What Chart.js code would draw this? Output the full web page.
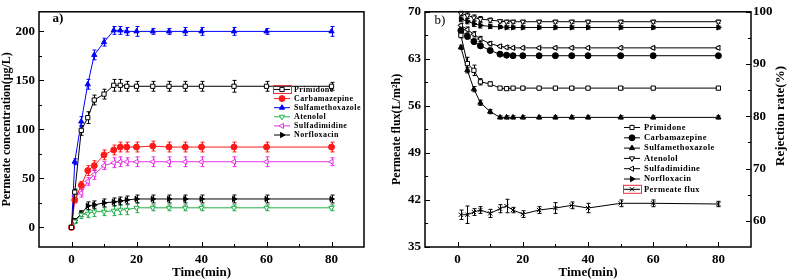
<!DOCTYPE html>
<html>
<head>
<meta charset="utf-8">
<script src="https://cdn.jsdelivr.net/npm/chart.js@4.4.0/dist/chart.umd.min.js"></script>
<style>
  body { margin: 0; background: #fff; }
  #wrap { position: relative; width: 787px; height: 280px; }
  canvas { position: absolute; top: 0; }
</style>
</head>
<body>
<div id="wrap">
  <canvas id="chartA" width="390" height="280" style="left:0"></canvas>
  <canvas id="chartB" width="397" height="280" style="left:390px"></canvas>
</div>
<script>
// ---- panel a) permeate concentration ----
const timeA = [0, 1, 3, 5, 7, 10, 13, 15, 17, 20, 25, 30, 35, 40, 50, 60, 80];
const primidoneA = [0, 36, 99, 112, 130, 136, 145, 145, 144, 144, 144, 144, 144, 144, 144, 144, 144];
const carbamazepineA = [0, 28, 43, 58, 63, 74, 79, 82, 82, 82, 83, 82, 82, 82, 82, 82, 82];
const sulfamethoxazoleA = [0, 67, 108, 146, 176, 189, 201, 201, 200, 200, 200, 200, 200, 200, 200, 200, 200];
const atenololA = [0, 6, 13, 14, 16, 16, 17, 18, 18, 20, 20, 20, 20, 20, 20, 20, 20];
const sulfadimidineA = [0, 32, 35, 47, 54, 63, 66, 67, 67, 67, 67, 67, 67, 67, 67, 67, 67];
const norfloxacinA = [0, 7, 14, 22, 23, 25, 26, 27, 28, 29, 29, 29, 29, 29, 29, 29, 29];

const errPrimidoneA = [0.5, 3, 5, 6, 5, 5, 6, 6, 5, 5, 5, 5, 5, 5, 6, 5, 4];
const errCarbamazepineA = [0.5, 3, 4, 5, 5, 5, 5, 5, 5, 5, 5, 5, 5, 5, 5, 5, 5];
const errSulfamethoxazoleA = [0.5, 3, 5, 5, 5, 4, 4, 4, 4, 5, 3, 3, 4, 4, 4, 3, 5];
const errAtenololA = [0.5, 2, 4, 4, 5, 4, 5, 5, 5, 5, 3, 3, 3, 3, 3, 3, 3];
const errSulfadimidineA = [0.5, 3, 4, 4, 5, 4, 5, 5, 4, 5, 5, 5, 5, 5, 5, 5, 4];
const errNorfloxacinA = [0.5, 2, 3, 4, 4, 4, 4, 4, 4, 4, 4, 4, 4, 4, 4, 4, 4];

// ---- panel b) rejection rate and flux ----
const timeB = [1, 3, 5, 7, 10, 13, 15, 17, 20, 25, 30, 35, 40, 50, 60, 80];
const primidoneB = [95.5, 90.1, 88.8, 86.6, 86.2, 85.4, 85.3, 85.4, 85.4, 85.4, 85.4, 85.4, 85.4, 85.4, 85.4, 85.4];
const carbamazepineB = [96.4, 95.3, 94.3, 93.5, 92.6, 91.9, 91.7, 91.6, 91.6, 91.6, 91.6, 91.6, 91.6, 91.6, 91.6, 91.6];
const sulfamethoxazoleB = [93.2, 88.8, 85.2, 82.6, 80.9, 79.8, 79.8, 79.8, 79.8, 79.8, 79.8, 79.8, 79.8, 79.8, 79.8, 79.8];
const atenololB = [99.7, 99.3, 98.9, 98.6, 98.4, 98.2, 98.1, 98.1, 98.1, 98.1, 98.1, 98.1, 98.1, 98.1, 98.1, 98.1];
const sulfadimidineB = [97.4, 96.6, 95.7, 94.8, 93.9, 93.4, 93.2, 93.1, 93.1, 93.1, 93.1, 93.1, 93.1, 93.1, 93.1, 93.1];
const norfloxacinB = [98.6, 98.2, 97.7, 97.4, 97.2, 97.1, 97.0, 97.0, 97.0, 97.0, 97.0, 97.0, 97.0, 97.0, 97.0, 97.0];
const fluxB = [39.8, 39.8, 40.2, 40.5, 40.0, 40.7, 41.1, 40.5, 39.9, 40.5, 40.8, 41.2, 40.8, 41.5, 41.5, 41.4];

const errPrimidoneB = [0.5, 1.2, 1.0, 0.6, 0.4, 0.3, 0.3, 0.3, 0.3, 0.3, 0.3, 0.3, 0.3, 0.3, 0.3, 0.3];
const errRejB = [0.4, 0.5, 0.5, 0.5, 0.4, 0.3, 0.3, 0.3, 0.3, 0.3, 0.3, 0.3, 0.3, 0.3, 0.3, 0.3];
const errFluxB = [0.7, 1.3, 0.5, 0.5, 0.6, 0.6, 1.0, 0.4, 0.5, 0.5, 0.8, 0.5, 0.7, 0.5, 0.5, 0.4];

// tick labels
const timeTicks = [0, 20, 40, 60, 80];
const timeMinor = [10, 30, 50, 70];
const concTicks = [0, 50, 100, 150, 200];
const concMinor = [25, 75, 125, 175];
const fluxTicks = [35, 42, 49, 56, 63, 70];
const fluxMinor = [38.5, 45.5, 52.5, 59.5, 66.5];
const rejTicks = [60, 70, 80, 90, 100];
const rejMinor = [65, 75, 85, 95];

const FONT = "'Liberation Serif', 'Times New Roman', serif";
Chart.defaults.font.family = FONT;
Chart.defaults.font.weight = "bold";
Chart.defaults.color = "#000";

function series(label, xs, ys, errs, color, style, rotation, filled, yAxisID) {
  return {
    label,
    data: xs.map((x, i) => ({ x, y: ys[i] })),
    errors: errs,
    borderColor: color,
    backgroundColor: color,
    borderWidth: 1,
    pointStyle: style,
    pointRotation: rotation,
    pointRadius: 3,
    pointBackgroundColor: filled ? color : "#fff",
    pointBorderColor: color,
    pointBorderWidth: 1,
    yAxisID: yAxisID || "y",
  };
}

// frame around the plot area
const frame = {
  id: "frame",
  afterDraw(chart) {
    const a = chart.chartArea, ctx = chart.ctx;
    ctx.save();
    ctx.strokeStyle = "#000";
    ctx.lineWidth = 1.5;
    ctx.strokeRect(a.left, a.top, a.right - a.left, a.bottom - a.top);
    ctx.restore();
  },
};

// inward tick marks
const tickMarks = {
  id: "tickMarks",
  afterDraw(chart, args, opts) {
    const a = chart.chartArea, ctx = chart.ctx;
    ctx.save();
    ctx.strokeStyle = "#000";
    ctx.lineWidth = 1;
    const mark = (s, v, len, side) => {
      const p = Math.round(s.getPixelForValue(v)) + 0.5;
      ctx.beginPath();
      if (side === "bottom") { ctx.moveTo(p, a.bottom); ctx.lineTo(p, a.bottom - len); }
      if (side === "left") { ctx.moveTo(a.left, p); ctx.lineTo(a.left + len, p); }
      if (side === "right") { ctx.moveTo(a.right, p); ctx.lineTo(a.right - len, p); }
      ctx.stroke();
    };
    opts.marks.forEach((m) => {
      const s = chart.scales[m.id];
      m.major.forEach((v) => mark(s, v, 5, m.side));
      m.minor.forEach((v) => mark(s, v, 3, m.side));
    });
    ctx.restore();
  },
};

// error bars from dataset.errors
const errorBars = {
  id: "errorBars",
  beforeDatasetsDraw(chart) {
    const ctx = chart.ctx;
    ctx.save();
    ctx.lineWidth = 1;
    chart.data.datasets.forEach((ds, i) => {
      if (!ds.errors) return;
      const meta = chart.getDatasetMeta(i);
      const ys = chart.scales[meta.yAxisID];
      ctx.strokeStyle = ds.borderColor;
      meta.data.forEach((pt, j) => {
        const v = ds.data[j].y, e = ds.errors[j];
        const x = Math.round(pt.x) + 0.5;
        const y1 = ys.getPixelForValue(v + e), y2 = ys.getPixelForValue(v - e);
        ctx.beginPath();
        ctx.moveTo(x, y1); ctx.lineTo(x, y2);
        ctx.moveTo(x - 2, y1); ctx.lineTo(x + 2, y1);
        ctx.moveTo(x - 2, y2); ctx.lineTo(x + 2, y2);
        ctx.stroke();
      });
    });
    ctx.restore();
  },
};

// legend drawn inside the plot
const legendBox = {
  id: "legendBox",
  afterDraw(chart, args, o) {
    const ctx = chart.ctx;
    ctx.save();
    ctx.font = `bold ${o.size}px ${FONT}`;
    ctx.letterSpacing = "0.4px";
    ctx.textBaseline = "middle";
    chart.data.datasets.forEach((ds, i) => {
      const y = o.y + i * o.step;
      ctx.strokeStyle = ds.borderColor;
      ctx.lineWidth = 1;
      ctx.beginPath();
      ctx.moveTo(o.x, y + 0.5); ctx.lineTo(o.x + 16, y + 0.5);
      ctx.stroke();
      ctx.fillStyle = ds.pointBackgroundColor;
      Chart.helpers.drawPoint(ctx, { pointStyle: ds.pointStyle, rotation: ds.pointRotation, radius: 3, borderWidth: 1 }, o.x + 8, y + 0.5);
      if (i === o.boxed) {
        ctx.strokeStyle = "#e8303a";
        ctx.strokeRect(o.x - 0.5, y - 3.5, 18, 8);
      }
      ctx.fillStyle = "#000";
      ctx.fillText(ds.label, o.x + 20, y + 0.5);
    });
    ctx.restore();
  },
};

// free text: panel letters, rotated right title
const freeText = {
  id: "freeText",
  afterDraw(chart, args, o) {
    const ctx = chart.ctx;
    ctx.save();
    ctx.fillStyle = "#000";
    ctx.textAlign = "center";
    ctx.textBaseline = "middle";
    o.items.forEach((t) => {
      ctx.save();
      ctx.font = t.font;
      ctx.translate(t.x, t.y);
      if (t.rot) ctx.rotate(t.rot);
      ctx.fillText(t.text, 0, 0);
      ctx.restore();
    });
    ctx.restore();
  },
};

function xAxis() {
  return {
    type: "linear",
    min: -10,
    max: 90,
    afterBuildTicks: (s) => { s.ticks = timeTicks.map((v) => ({ value: v })); },
    afterFit: (s) => { s.height = 33; },
    grid: { display: false, drawTicks: false },
    border: { display: false },
    ticks: { padding: 5, font: { size: 13, weight: "bold" }, maxRotation: 0, autoSkip: false },
    title: { display: true, text: "Time(min)", font: { size: 13, weight: "bold" }, padding: 0 },
  };
}

function yAxis(min, max, ticks, width, pad, title, position) {
  return {
    type: "linear",
    position: position || "left",
    min, max,
    afterBuildTicks: (s) => { s.ticks = ticks.map((v) => ({ value: v })); },
    afterFit: (s) => { s.width = width; },
    grid: { display: false, drawTicks: false },
    border: { display: false },
    ticks: { padding: pad, font: { size: 13, weight: "bold" } },
    title: { display: !!title, text: title, font: { size: 12, weight: "bold" }, padding: 0 },
  };
}

new Chart(document.getElementById("chartA"), {
  type: "line",
  data: {
    datasets: [
      series("Primidone", timeA, primidoneA, errPrimidoneA, "#000000", "rect", 0, false),
      series("Carbamazepine", timeA, carbamazepineA, errCarbamazepineA, "#ff1a1a", "circle", 0, true),
      series("Sulfamethoxazole", timeA, sulfamethoxazoleA, errSulfamethoxazoleA, "#0000ff", "triangle", 0, true),
      series("Atenolol", timeA, atenololA, errAtenololA, "#22b04a", "triangle", 180, false),
      series("Sulfadimidine", timeA, sulfadimidineA, errSulfadimidineA, "#e632e6", "triangle", 270, false),
      series("Norfloxacin", timeA, norfloxacinA, errNorfloxacinA, "#000000", "triangle", 90, true),
    ],
  },
  options: {
    responsive: false,
    animation: false,
    devicePixelRatio: 1,
    layout: { padding: { top: 5, right: 26, left: 0, bottom: 0 } },
    scales: {
      x: xAxis(),
      y: yAxis(-20, 220, concTicks, 39, 4, "Permeate concentration(\u03bcg/L)"),
    },
    plugins: {
      legend: { display: false },
      tooltip: { enabled: false },
      tickMarks: {
        marks: [
          { id: "x", side: "bottom", major: timeTicks, minor: timeMinor },
          { id: "y", side: "left", major: concTicks, minor: concMinor },
        ],
      },
      legendBox: { x: 274, y: 89, step: 9.1, size: 8, boxed: 0 },
      freeText: { items: [{ text: "a)", x: 58, y: 19, font: `bold 13px ${FONT}` }] },
    },
  },
  plugins: [errorBars, frame, tickMarks, legendBox, freeText],
});

new Chart(document.getElementById("chartB"), {
  type: "line",
  data: {
    datasets: [
      series("Primidone", timeB, primidoneB, errPrimidoneB, "#000000", "rect", 0, false, "yR"),
      series("Carbamazepine", timeB, carbamazepineB, errRejB, "#000000", "circle", 0, true, "yR"),
      series("Sulfamethoxazole", timeB, sulfamethoxazoleB, errRejB, "#000000", "triangle", 0, true, "yR"),
      series("Atenolol", timeB, atenololB, errRejB, "#000000", "triangle", 180, false, "yR"),
      series("Sulfadimidine", timeB, sulfadimidineB, errRejB, "#000000", "triangle", 270, false, "yR"),
      series("Norfloxacin", timeB, norfloxacinB, errRejB, "#000000", "triangle", 90, true, "yR"),
      series("Permeate flux", timeB, fluxB, errFluxB, "#000000", "crossRot", 0, false, "y"),
    ],
  },
  options: {
    responsive: false,
    animation: false,
    devicePixelRatio: 1,
    layout: { padding: { top: 5, right: 0, left: 0, bottom: 0 } },
    scales: {
      x: xAxis(),
      y: yAxis(35, 70, fluxTicks, 35, 4, "Permeate flux(L/m\u00b2h)"),
      yR: yAxis(55, 100, rejTicks, 36, 2, "", "right"),
    },
    plugins: {
      legend: { display: false },
      tooltip: { enabled: false },
      tickMarks: {
        marks: [
          { id: "x", side: "bottom", major: timeTicks, minor: timeMinor },
          { id: "y", side: "left", major: fluxTicks, minor: fluxMinor },
          { id: "yR", side: "right", major: rejTicks, minor: rejMinor },
        ],
      },
      legendBox: { x: 234, y: 127, step: 10.3, size: 8.5, boxed: 6 },
      freeText: {
        items: [
          { text: "b)", x: 50, y: 21, font: `13px ${FONT}` },
          { text: "Rejection rate(%)", x: 391, y: 116, rot: -Math.PI / 2, font: `bold 13px ${FONT}` },
        ],
      },
    },
  },
  plugins: [errorBars, frame, tickMarks, legendBox, freeText],
});
</script>
</body>
</html>
